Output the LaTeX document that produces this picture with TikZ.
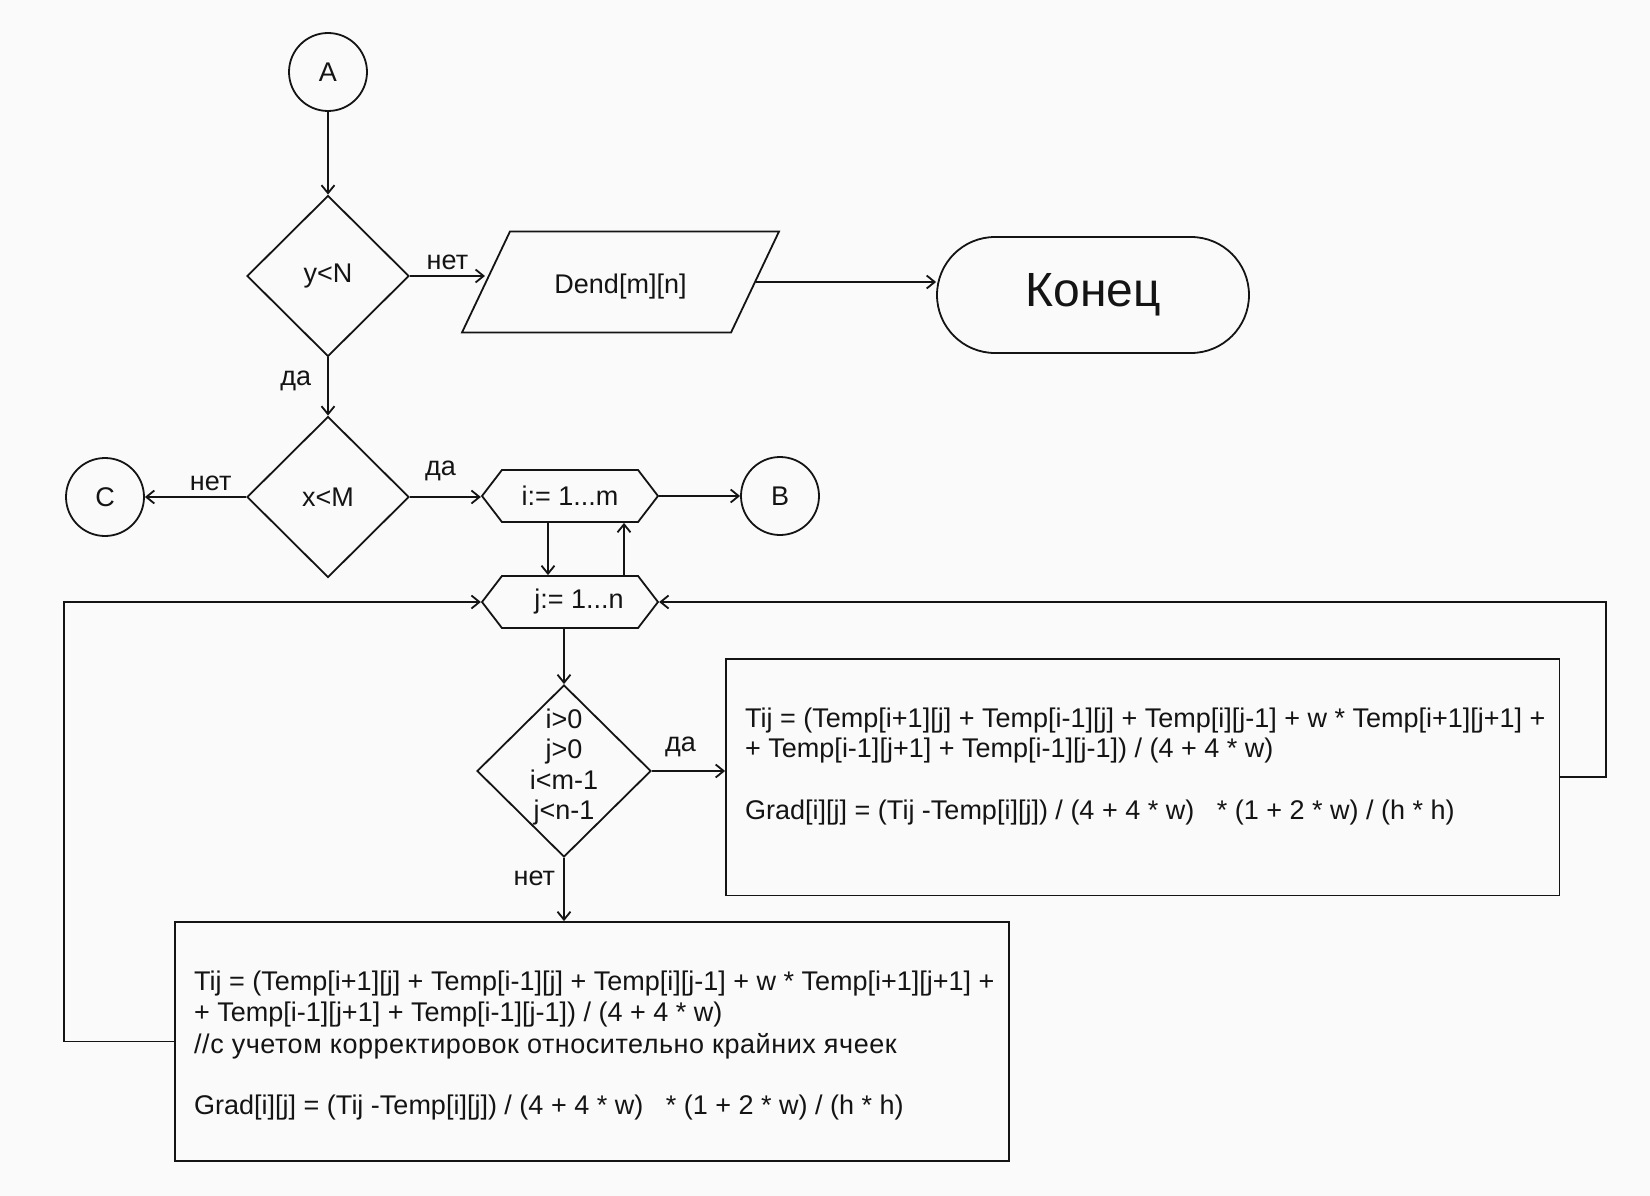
\documentclass[tikz,border=0pt]{standalone}
\usepackage{fontspec}
\setmainfont{Liberation Sans}
\usetikzlibrary{shapes.geometric,shapes.misc,shapes.symbols,arrows.meta,calc}
\definecolor{bg}{RGB}{250,250,250}
\definecolor{ink}{RGB}{20,20,20}
\begin{document}
\begin{tikzpicture}[x=1pt,y=-1pt,
  every node/.style={font=\fontsize{27}{30.5}\selectfont, text=ink},
  shp/.style={draw=ink, line width=1.8pt, inner sep=0pt},
  conncircle/.style={shp, circle, minimum size=78pt},
  decision/.style={shp, diamond, minimum width=162pt, minimum height=161pt},
  loophex/.style={shp, signal, signal to=west and east, signal pointer angle=105, minimum width=176pt, minimum height=52pt},
  io/.style={shp, trapezium, trapezium left angle=64.6, trapezium right angle=115.4, trapezium stretches body, text height=62pt, text depth=39pt, minimum width=317pt},
  term/.style={shp, rounded rectangle, minimum width=312pt, minimum height=116pt},
  procbox/.style={shp, rectangle},
  conn/.style={draw=ink, line width=1.8pt},
  arr/.style={conn, -{Straight Barb[length=8pt,width=13pt]}},
  lbl/.style={inner sep=0pt},
  txt/.style={anchor=base west, inner sep=0pt}]
\fill[bg] (0,0) rectangle (1650,1196);
\useasboundingbox (0,0) rectangle (1650,1196);

\node[conncircle] (A) at (328,72) {A};
\node[decision] (yN) at (328,276) {y<N};
\node[io] (dend) at (620.5,282) {Dend[m][n]};
\node[term] (kon) at (1093,295) {\fontsize{48}{56}\selectfont Конец};
\node[decision] (xM) at (328,497) {x<M};
\node[conncircle] (C) at (105,497) {C};
\node[loophex] (hi) at (570,496) {i:= 1...m};
\node[conncircle] (B) at (780,496) {B};
\node[loophex] (hj) at (570,602) {\hspace*{18pt}j:= 1...n};
\node[shp, diamond, minimum width=174pt, minimum height=172pt] (d3) at (564,771) {};
\node[align=center, inner sep=0pt, yshift=4pt] (d3t) at (d3.center) {i>0\\j>0\\i<m-1\\j<n-1};
\node[procbox, minimum width=833.5pt, minimum height=236.5pt] (b1) at (1142.75,777.25) {};
\node[procbox, minimum width=834pt, minimum height=239pt] (b2) at (592,1041.5) {};

\node[txt] (b1l1) at (745,727) {Tij = (Temp[i+1][j] + Temp[i-1][j] + Temp[i][j-1] + w * Temp[i+1][j+1] +};
\node[txt] (b1l2) at (745,757.5) {+ Temp[i-1][j+1] + Temp[i-1][j-1]) / (4 + 4 * w)};
\node[txt] (b1l3) at (745,819.5) {Grad[i][j] = (Tij -Temp[i][j]) / (4 + 4 * w) \ \ * (1 + 2 * w) / (h * h)};

\node[txt] (b2l1) at (194,990) {Tij = (Temp[i+1][j] + Temp[i-1][j] + Temp[i][j-1] + w * Temp[i+1][j+1] +};
\node[txt] (b2l2) at (194,1021.5) {+ Temp[i-1][j+1] + Temp[i-1][j-1]) / (4 + 4 * w)};
\node[txt] (b2l3) at (194,1053) {\addfontfeature{LetterSpace=2}//с учетом корректировок относительно крайних ячеек};
\node[txt] (b2l4) at (194,1114) {Grad[i][j] = (Tij -Temp[i][j]) / (4 + 4 * w) \ \ * (1 + 2 * w) / (h * h)};

\draw[arr] (A.south) -- (yN.north);
\draw[arr] (yN.east) -- (yN.east -| dend.west) node[lbl, midway, above=5pt] {нет};
\draw[arr] (dend.east) -- (dend.east -| kon.west);
\draw[arr] (yN.south) -- (xM.north) node[lbl, pos=0.41, left=16pt] {да};
\draw[arr] (xM.west) -- (C.east) node[lbl, pos=0.35, above=5pt] {нет};
\draw[arr] (xM.east) -- (xM.east -| hi.west) node[lbl, pos=0.43, above=15pt] {да};
\draw[arr] (hi.east) -- (B.west);
\draw[arr] ([xshift=-22pt]hi.south) -- ([xshift=-22pt]hj.north);
\draw[arr] ([xshift=54pt]hj.north) -- ([xshift=54pt]hi.south);
\draw[arr] (hj.south -| d3.north) -- (d3.north);
\draw[arr] (d3.east) -- (d3.east -| b1.west) node[lbl, pos=0.39, above=13pt] {да};
\draw[arr] (d3.south) -- (d3.south |- b2.north) node[lbl, pos=0.33, left=8pt] {нет};
\draw[arr] (b1.east) -- ++(45.5,0) |- (hj.east);
\draw[arr] (b2.west) -- ++(-110,0) |- (hj.west);
\end{tikzpicture}
\end{document}
